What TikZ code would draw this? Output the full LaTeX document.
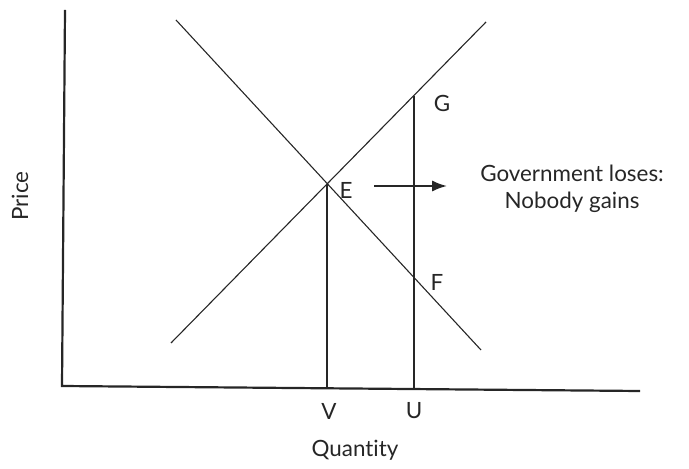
\documentclass[tikz,border=0pt]{standalone}
\usepackage{fontspec}
\setmainfont{Lato}[Ligatures=NoCommon]
\usetikzlibrary{arrows.meta}

\begin{document}
\begin{tikzpicture}[x=0.5pt,y=-0.5pt,>=Latex,font=\fontsize{11.2}{13.5}\selectfont,
  curve/.style={draw=black!85,line width=0.55pt},
  axis/.style={draw=black!85,line width=1.1pt},
  lbl/.style={text=black!85,inner sep=1pt}]
\useasboundingbox (0,0) rectangle (689,469);
% axes
\coordinate (top) at (65,10);
\coordinate (origin) at (62,386);
\coordinate (right) at (640,391);
\draw[axis] (top) -- (origin) -- (right);
% demand and supply
\coordinate (d1) at (176,20);
\coordinate (d2) at (481,350);
\coordinate (s1) at (171,343);
\coordinate (s2) at (486,22);
\draw[curve] (d1) -- (d2);
\draw[curve] (s1) -- (s2);
% equilibrium and tax wedge
\coordinate (E) at (327,184);
\coordinate (G) at (414,96);
\coordinate (F) at (414,277);
\coordinate (Vb) at (327,387);
\coordinate (Ub) at (414,389);
\draw[curve] (E) -- (Vb);
\draw[curve] (G) -- (Ub);
\node[lbl] (eLbl) at (346,190) {E};
\node[lbl] (gLbl) at (442,103) {G};
\node[lbl] (fLbl) at (437,282) {F};
\node[lbl] (vLbl) at (329,411) {V};
\node[lbl] (uLbl) at (414,411) {U};
\node[lbl] (qty) at (355,450) {Quantity};
\node[lbl,rotate=90] (price) at (20,196) {Price};
% comment
\coordinate (a1) at (374,186);
\coordinate (a2) at (447,186);
\draw[->,line width=1pt,black!85] (a1) -- (a2);
\node[lbl,align=center] (note) at (572,189) {Government loses:\\Nobody gains};
\end{tikzpicture}
\end{document}
